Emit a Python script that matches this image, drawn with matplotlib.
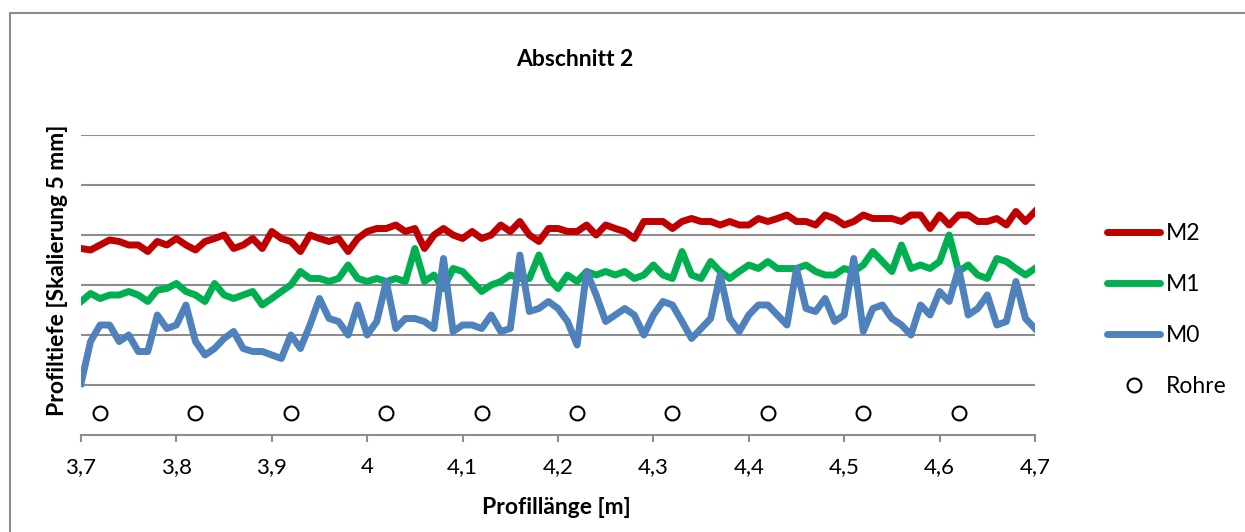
import numpy as np
import matplotlib
matplotlib.use("Agg")
import matplotlib.pyplot as plt
from matplotlib.ticker import FuncFormatter, MultipleLocator
from matplotlib.patches import Rectangle
from matplotlib.lines import Line2D

plt.rcParams['font.family'] = ['Lato', 'DejaVu Sans']

# profile length [m], one reading every 1 cm
x = np.linspace(3.7, 4.7, 101)

m2 = [3.73, 3.70, 3.80, 3.90, 3.87, 3.80, 3.80, 3.67, 3.87, 3.80, 3.93, 3.80, 3.70, 3.87, 3.93, 4.00, 3.73,
      3.80, 3.93, 3.73, 4.07, 3.93, 3.87, 3.67, 4.00, 3.93, 3.87, 3.93, 3.67, 3.93, 4.07, 4.13, 4.13, 4.20,
      4.07, 4.13, 3.73, 4.00, 4.13, 4.00, 3.93, 4.07, 3.93, 4.00, 4.20, 4.07, 4.27, 4.00, 3.87, 4.13, 4.13,
      4.07, 4.07, 4.20, 4.00, 4.20, 4.13, 4.07, 3.93, 4.27, 4.27, 4.27, 4.13, 4.27, 4.33, 4.27, 4.27,
      4.20, 4.27, 4.20, 4.20, 4.33, 4.27, 4.33, 4.40, 4.27, 4.27, 4.20, 4.40, 4.33, 4.20, 4.27, 4.40, 4.33,
      4.33, 4.33, 4.27, 4.40, 4.40, 4.13, 4.40, 4.20, 4.40, 4.40, 4.27, 4.27, 4.33, 4.20, 4.47, 4.27, 4.47]

m1 = [2.67, 2.83, 2.73, 2.80, 2.80, 2.87, 2.80, 2.67, 2.90, 2.93, 3.03, 2.87, 2.80, 2.67, 3.03, 2.80, 2.73,
      2.80, 2.87, 2.60, 2.73, 2.87, 3.00, 3.27, 3.13, 3.13, 3.07, 3.13, 3.40, 3.13, 3.07, 3.13, 3.07, 3.13,
      3.07, 3.73, 3.07, 3.20, 2.93, 3.33, 3.27, 3.07, 2.87, 3.00, 3.07, 3.20, 3.13, 3.13, 3.60, 3.13, 2.93,
      3.20, 3.07, 3.27, 3.20, 3.27, 3.20, 3.27, 3.13, 3.20, 3.40, 3.20, 3.13, 3.67, 3.20, 3.13, 3.47,
      3.27, 3.13, 3.27, 3.40, 3.33, 3.47, 3.33, 3.33, 3.33, 3.40, 3.27, 3.20, 3.20, 3.33, 3.27, 3.40, 3.67,
      3.47, 3.27, 3.80, 3.33, 3.40, 3.33, 3.47, 4.00, 3.27, 3.40, 3.20, 3.13, 3.53, 3.47, 3.33, 3.20, 3.33]

m0 = [1.03, 1.87, 2.20, 2.20, 1.87, 2.00, 1.67, 1.67, 2.40, 2.13, 2.20, 2.60, 1.87, 1.60, 1.73, 1.93, 2.07,
      1.73, 1.67, 1.67, 1.60, 1.53, 2.00, 1.73, 2.20, 2.73, 2.33, 2.27, 2.00, 2.60, 2.00, 2.27, 3.07, 2.13,
      2.33, 2.33, 2.27, 2.13, 3.53, 2.07, 2.20, 2.20, 2.13, 2.40, 2.07, 2.13, 3.60, 2.47, 2.53, 2.67, 2.53,
      2.27, 1.80, 3.27, 2.80, 2.27, 2.40, 2.53, 2.40, 2.00, 2.40, 2.67, 2.60, 2.27, 1.93, 2.13, 2.33,
      3.20, 2.33, 2.07, 2.40, 2.60, 2.60, 2.40, 2.20, 3.33, 2.53, 2.47, 2.73, 2.27, 2.40, 3.53, 2.07, 2.53,
      2.60, 2.33, 2.20, 2.00, 2.60, 2.40, 2.87, 2.67, 3.33, 2.40, 2.53, 2.80, 2.20, 2.27, 3.07, 2.33, 2.13]

rohre_x = [3.72, 3.82, 3.92, 4.02, 4.12, 4.22, 4.32, 4.42, 4.52, 4.62]
rohre_y = [0.44] * len(rohre_x)

W, H = 1245, 532
fig = plt.figure(figsize=(W / 100, H / 100), dpi=100)
ax = fig.add_axes([81 / W, 1 - 435 / H, (1035 - 81) / W, 300 / H])

# outer chart frame (runs off the right and bottom edges)
fig.patches.append(Rectangle((10 / W, -0.1), 1.2, 1 - 13 / H + 0.1, transform=fig.transFigure,
                             fill=False, edgecolor='#8c8c8c', lw=1.5))

lw = 5
ax.plot(rohre_x, rohre_y, 'o', mfc='white', mec='black', ms=10, mew=1.5, ls='none', zorder=3)
ax.plot(x, m2, color='#C00000', lw=lw, solid_joinstyle='round', zorder=4)
ax.plot(x, m1, color='#00B050', lw=lw, solid_joinstyle='round', zorder=5)
ax.plot(x, m0, color='#4F81BD', lw=lw, solid_joinstyle='round', zorder=6)

ax.set_xlim(3.7, 4.7)
ax.set_ylim(0, 6)
ax.xaxis.set_major_locator(MultipleLocator(0.1))
ax.xaxis.set_major_formatter(FuncFormatter(lambda v, p: f"{round(v, 1):g}".replace('.', ',')))
ax.set_yticks([1, 2, 3, 4, 5, 6])
ax.yaxis.grid(True, color='#8c8c8c', lw=1.5)
ax.set_axisbelow(True)
ax.tick_params(axis='y', left=False, labelleft=False)
ax.tick_params(axis='x', direction='out', length=5, width=1.5, color='#8c8c8c',
               labelsize=16, pad=11, labelcolor='black')
for s in ['left', 'right', 'top']:
    ax.spines[s].set_visible(False)
ax.spines['bottom'].set_color('#8c8c8c')
ax.spines['bottom'].set_linewidth(1.5)

fig.text(575 / W, 1 - 60 / H, 'Abschnitt 2', ha='center', va='center', fontsize=16.5, fontweight='bold')
fig.text(556 / W, 1 - 508 / H, 'Profillänge [m]', ha='center', va='center', fontsize=16.5, fontweight='bold')
fig.text(57 / W, 1 - 270 / H, 'Profiltiefe [Skalierung 5 mm]', ha='center', va='center',
         rotation=90, fontsize=16.5, fontweight='bold')

handles = [Line2D([], [], color='#C00000', lw=lw, solid_capstyle='round'),
           Line2D([], [], color='#00B050', lw=lw, solid_capstyle='round'),
           Line2D([], [], color='#4F81BD', lw=lw, solid_capstyle='round'),
           Line2D([], [], marker='o', mfc='white', mec='black', ms=10, mew=1.5, ls='none')]
fig.legend(handles, ['M2', 'M1', 'M0', 'Rohre'], loc='upper left',
           bbox_to_anchor=(1098 / W, 1 - 214 / H), frameon=False, fontsize=16.5,
           handlelength=2.3, handletextpad=0.28, labelspacing=1.3, borderaxespad=0)

fig.savefig('out.png', dpi=100)
